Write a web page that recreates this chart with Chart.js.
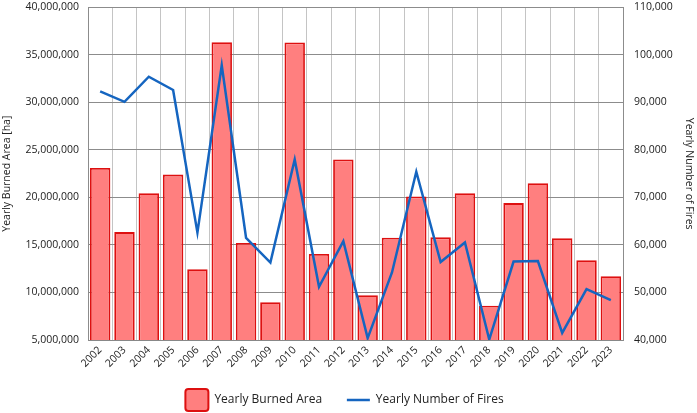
<!DOCTYPE html>
<html>
<head>
<meta charset="utf-8">
<script src="https://cdn.jsdelivr.net/npm/chart.js@4/dist/chart.umd.min.js"></script>
<style>
  html, body { margin: 0; padding: 0; background: #fff; }
  #wrap { width: 697px; height: 413px; }
</style>
</head>
<body>
<div id="wrap"><canvas id="fireChart"></canvas></div>
<script>
const years = ['2002','2003','2004','2005','2006','2007','2008','2009','2010','2011','2012',
               '2013','2014','2015','2016','2017','2018','2019','2020','2021','2022','2023'];
const burnedArea = [23100000, 16350000, 20450000, 22400000, 12450000, 36330000, 15200000, 8970000,
                    36300000, 14050000, 24000000, 9700000, 15750000, 20100000, 15800000, 20450000,
                    8600000, 19400000, 21500000, 15700000, 13400000, 11700000];
const fireCount = [92300, 90100, 95400, 92600, 62600, 97800, 61500, 56300, 78000, 51200, 60800,
                   40400, 54200, 75400, 56400, 60500, 40100, 56500, 56600, 41500, 50700, 48400];

const fontFamily = '"Segoe UI", "Open Sans", "Noto Sans", sans-serif';
const fmt = v => Number(v).toLocaleString('en-US');

// nudge the legend down/left a little, then draw a plain line for the line series
const legendTweaks = {
  id: 'legendTweaks',
  afterLayout(chart) {
    const lg = chart.legend;
    if (!lg) return;
    const dy = 8, dx = -4;
    lg.top += dy; lg.bottom += dy;
    lg.left += dx; lg.right += dx;
  },
  afterDraw(chart) {
    const lg = chart.legend;
    if (!lg || !lg.legendHitBoxes) return;
    const box = lg.legendHitBoxes[1];
    const ctx = chart.ctx;
    const y = box.top + box.height / 2;
    ctx.save();
    ctx.strokeStyle = '#1565C0';
    ctx.lineWidth = 2.5;
    ctx.beginPath();
    ctx.moveTo(box.left, y);
    ctx.lineTo(box.left + 23, y);
    ctx.stroke();
    ctx.restore();
  }
};

new Chart(document.getElementById('fireChart'), {
  type: 'bar',
  data: {
    labels: years,
    datasets: [
      {
        type: 'bar',
        label: 'Yearly Burned Area',
        data: burnedArea,
        yAxisID: 'y',
        backgroundColor: '#FF7F7F',
        borderColor: '#DD1010',
        borderWidth: 1.8,
        categoryPercentage: 1,
        barPercentage: 0.84,
        order: 2
      },
      {
        type: 'line',
        label: 'Yearly Number of Fires',
        data: fireCount,
        yAxisID: 'y1',
        borderColor: '#1565C0',
        backgroundColor: '#1565C0',
        borderWidth: 2.5,
        pointRadius: 0,
        tension: 0,
        order: 1
      }
    ]
  },
  options: {
    responsive: true,
    maintainAspectRatio: false,
    animation: false,
    layout: { padding: 0 },
    plugins: {
      tooltip: { enabled: false },
      legend: {
        position: 'bottom',
        labels: {
          boxWidth: 23,
          boxHeight: 22,
          padding: 3,
          color: '#222',
          font: { family: fontFamily, size: 12 },
          generateLabels(chart) {
            // trailing spaces widen the gap between the two legend entries
            return [
              { text: 'Yearly Burned Area       ', fillStyle: '#FF7F7F', strokeStyle: '#DD1010',
                lineWidth: 2, borderRadius: 3, datasetIndex: 0, fontColor: '#222' },
              { text: 'Yearly Number of Fires', fillStyle: 'rgba(0,0,0,0)', strokeStyle: 'rgba(0,0,0,0)',
                lineWidth: 0, datasetIndex: 1, fontColor: '#222' }
            ];
          }
        }
      }
    },
    scales: {
      x: {
        grid: { color: '#C4C4C4', drawTicks: false, offset: true },
        border: { color: '#888' },
        ticks: {
          color: '#222', font: { family: fontFamily, size: 10.5 },
          maxRotation: 45, minRotation: 45, padding: 4, autoSkip: false
        },
        afterFit(scale) { scale.height = 38; }
      },
      y: {
        position: 'left',
        min: 5000000, max: 40000000,
        // invisible tick marks give the label gap without extra top padding
        grid: { color: '#8C8C8C', drawTicks: true, tickLength: 8, tickColor: 'rgba(0,0,0,0)' },
        border: { color: '#8C8C8C' },
        ticks: {
          stepSize: 5000000, padding: 1, color: '#222',
          font: { family: fontFamily, size: 10.5 },
          callback: v => fmt(v)
        },
        title: {
          display: true, text: 'Yearly Burned Area [ha]', color: '#222',
          font: { family: fontFamily, size: 10.5 }, padding: { top: 1, bottom: 2 }
        },
        afterFit(scale) { scale.width = 88; }
      },
      y1: {
        position: 'right',
        min: 40000, max: 110000,
        grid: { drawOnChartArea: false, drawTicks: true, tickLength: 10, tickColor: 'rgba(0,0,0,0)' },
        border: { color: '#8C8C8C' },
        ticks: {
          stepSize: 10000, padding: 1, color: '#222',
          font: { family: fontFamily, size: 10.5 },
          callback: v => fmt(v)
        },
        title: {
          display: true, text: 'Yearly Number of Fires', color: '#222',
          font: { family: fontFamily, size: 10.5 }, padding: { top: 2, bottom: 0 }
        },
        afterFit(scale) { scale.width = 74; }
      }
    }
  },
  plugins: [legendTweaks]
});
</script>
</body>
</html>
